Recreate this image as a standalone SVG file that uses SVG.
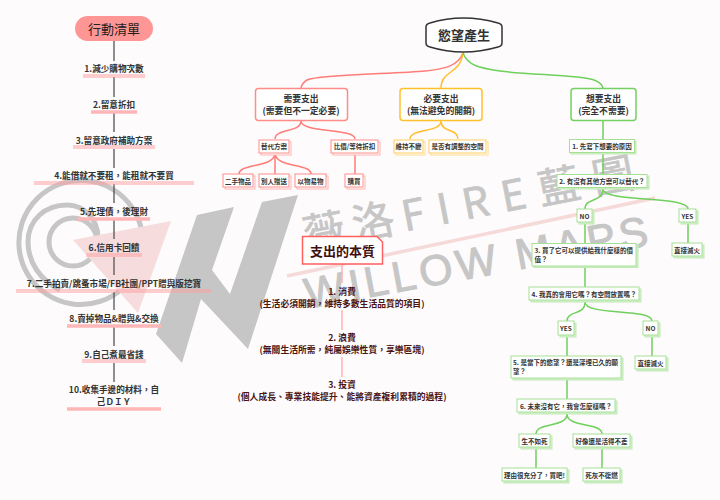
<svg xmlns="http://www.w3.org/2000/svg" width="720" height="500" viewBox="0 0 720 500">
<style>
text{font-family:"Noto Sans CJK TC","Noto Sans",sans-serif;text-anchor:middle;dominant-baseline:central;fill:#333;font-weight:700}
.li{font-size:8.6px}
.m{font-size:8.8px}
.s{font-size:6.5px}
.l{text-anchor:start}
.b{font-size:8.8px;fill:#4a1414}
.wm{fill:#c6c6c6;stroke:#c6c6c6;font-weight:400}
.front{fill:#fff;stroke-width:1}
.back{stroke-width:1}
.r .front{stroke:#ff8c87}.r .back{fill:#fff;stroke:#ffb4b0}
.y .front{stroke:#ffcd5c}.y .back{fill:#fff;stroke:#ffdc8c}
.g .front{stroke:#a5e095}.g .back{fill:#d6f1ce;stroke:#c2e9b6}
.main{fill:#fff;stroke-width:1.5}
.c{fill:none;stroke-width:1.5}
.cr{stroke:#ff7d78}.cy{stroke:#ffbe2a}.cg{stroke:#6fd05c}
.u1{stroke:#ff9e9e;stroke-width:1;fill:none}
.u2{stroke:#ffb6b6;stroke-width:3.5;fill:none}
</style>
<rect width="720" height="500" fill="#fdfbfc"/>
<g id="watermark">
<g fill="none" stroke="#c6c6c6" stroke-width="5">
<path d="M142,232A62,62 0 1 0 123,288"/>
<path d="M60,290C40,280 28,262 28,242C28,220 45,205 67,205C85,205 98,220 98,238"/>
<circle cx="73" cy="242" r="24"/>
</g>
<polygon points="73,240 171,221 138,313" fill="#f6dcdc"/>
<polygon points="197,215 234,207 212,270 230,294 262,202 298,195 248,349 201,299 182,363 156,334" fill="#c6c6c6"/>
<path d="M287,276L655,198" stroke="#f6d9d9" stroke-width="3.500"/>
<text class="wm" transform="translate(303,232) rotate(-11)" style="font-size:42px;stroke-width:.7px;text-anchor:start;letter-spacing:8px">薇洛<tspan style="letter-spacing:13px">FIRE</tspan><tspan style="letter-spacing:13px">藍圖</tspan></text>
<text class="wm" transform="translate(478,262) rotate(-10.5)" style="font-size:43px;letter-spacing:4px;stroke-width:1px;font-family:'Liberation Sans',sans-serif">WILLOW MAPS</text>
</g>
<g id="connectors">
<path d="M114,41V61M114,77V97M114,113V132M114,149V168M114,184V203M114,220V239M114,257V275M114,292V310M114,327V346M114,363V382" stroke="#555" stroke-width="1.300" fill="none"/>
<path class="c cr" d="M463,53C458,66 445,69 425,71C395,74 320,74 307,80Q302,83 301,88"/>
<path class="c cy" d="M463,53C460,75 441,70 441,88"/>
<path class="c cg" d="M463,53C468,66 480,68 500,71C530,75 580,75 594,80Q602,83 603,88"/>
<path class="c cr" d="M301,121C301,133 275,128 275,139M301,121C301,133 355,128 355,139"/>
<path class="c cr" d="M275,153C275,168 239,163 239,174M275,153V174M275,153C275,168 311,163 311,174M355,153V174"/>
<path class="c cy" d="M441,121C441,133 410,128 410,139M441,121C441,133 458,128 458,139"/>
<path class="c cg" d="M603,121V174M603,189C603,203 585,197 585,209M603,189C603,203 688,195 688,209M585,223V243M688,223V243M585,267V287"/>
<path class="c cg" d="M585,302C585,316 567,310 567,321M585,302C585,316 652,308 652,321M567,337V356M652,337V356M567,380V399"/>
<path class="c cg" d="M567,414C567,428 536,422 536,434M567,414C567,428 602,422 602,434M536,449V468M602,449V468"/>
<path d="M342,264V283M342,310V330M342,357V377" stroke="#ffb3b3" stroke-width="1.500" fill="none"/>
</g>
<g id="action-list"><rect x="75" y="16" width="78" height="25" rx="12.500" fill="#ff9696"/><text x="114" y="28.500" style="font-size:13px;font-weight:400;fill:#222">行動清單</text></g>
<g id="a1"><text class="li" x="114" y="68">1.減少購物次數</text><path class="u1" d="M83,75H145M83,77H145"/></g>
<g id="a2"><text class="li" x="114" y="104">2.留意折扣</text><path class="u2" d="M91,112H137"/></g>
<g id="a3"><text class="li" x="114" y="140">3.留意政府補助方案</text><path class="u1" d="M73,146H155M73,148H155"/></g>
<g id="a4"><text class="li" x="114" y="175">4.能借就不要租，能租就不要買</text><path class="u1" d="M34,182H194M34,184H194"/></g>
<g id="a5"><text class="li" x="114" y="211">5.先理債，後理財</text><path class="u2" d="M78,219H150"/></g>
<g id="a6"><text class="li" x="114" y="247">6.信用卡回饋</text><path class="u1" d="M86,254H142M86,256H142"/></g>
<g id="a7"><text class="li" x="114" y="283">7.二手拍賣/跳蚤市場/FB社團/PPT贈與版挖寶</text><path class="u1" d="M16,290H211M16,292H211"/></g>
<g id="a8"><text class="li" x="114" y="318">8.賣掉物品&amp;贈與&amp;交換</text><path class="u2" d="M67,326H161"/></g>
<g id="a9"><text class="li" x="114" y="354">9.自己煮最省錢</text><path class="u1" d="M82,360H146M82,362H146"/></g>
<g id="a10"><text class="li" x="114" y="389">10.收集手邊的材料，自</text><text class="li" x="114" y="401">己ＤＩＹ</text><path class="u2" d="M67,409H161"/></g>
<g id="desire"><path d="M426,27Q426,24 430,23Q463,13 498,23Q502,24 502,27V43Q502,46 498,47Q463,57 430,47Q426,46 426,43Z" fill="#fff" stroke="#333" stroke-width="1.500"/><text x="464" y="34.500" style="font-size:13px">慾望產生</text></g>
<g id="need"><rect class="main" x="255.500" y="88.500" width="92" height="32" rx="3" stroke="#ff8c87"/><text class="m" x="301" y="98.500">需要支出</text><text class="m" x="301" y="110">(需要但不一定必要)</text></g>
<g id="must"><rect class="main" x="400" y="88.500" width="82" height="32" rx="3" stroke="#ffc12b"/><text class="m" x="441" y="98.500">必要支出</text><text class="m" x="441" y="110">(無法避免的開銷)</text></g>
<g id="want"><rect class="main" x="571" y="88.500" width="65" height="32" rx="3" stroke="#74d060"/><text class="m" x="603.500" y="98.500">想要支出</text><text class="m" x="603.500" y="110">(完全不需要)</text></g>
<g id="n1" class="r"><rect class="back" x="261" y="142" width="30" height="13"/><rect class="front" x="259" y="140" width="30" height="13"/><text class="s" x="274" y="146">替代方案</text></g>
<g id="n2" class="r"><rect class="back" x="333" y="142" width="47" height="13"/><rect class="front" x="331" y="140" width="47" height="13"/><text class="s" x="354.500" y="146">比價/等待折扣</text></g>
<g id="n3" class="y"><rect class="back" x="396" y="142" width="29" height="13"/><rect class="front" x="394" y="140" width="29" height="13"/><text class="s" x="408.500" y="146">維持不變</text></g>
<g id="n4" class="y"><rect class="back" x="431" y="142" width="57" height="13"/><rect class="front" x="429" y="140" width="57" height="13"/><text class="s" x="457.500" y="146">是否有調整的空間</text></g>
<g id="n5" class="r"><rect class="back" x="225" y="176" width="30" height="13"/><rect class="front" x="223" y="174" width="30" height="13"/><text class="s" x="238" y="180.500">二手物品</text></g>
<g id="n6" class="r"><rect class="back" x="261" y="176" width="30" height="13"/><rect class="front" x="259" y="174" width="30" height="13"/><text class="s" x="274" y="180.500">別人贈送</text></g>
<g id="n7" class="r"><rect class="back" x="297" y="176" width="31" height="13"/><rect class="front" x="295" y="174" width="31" height="13"/><text class="s" x="310.500" y="180.500">以物易物</text></g>
<g id="n8" class="r"><rect class="back" x="347" y="176" width="18" height="13"/><rect class="front" x="345" y="174" width="18" height="13"/><text class="s" x="354" y="180.500">購買</text></g>
<g id="g1" class="g"><rect class="back" x="571" y="141" width="65" height="13"/><rect class="front" x="569.500" y="139.500" width="65" height="13"/><text class="s" x="602" y="146">1. 先寫下想要的原因</text></g>
<g id="g2" class="g"><rect class="back" x="559" y="176" width="90" height="13"/><rect class="front" x="557" y="174.500" width="90" height="13"/><text class="s" x="602" y="181">2. 有沒有其他方案可以替代？</text></g>
<g id="g3" class="g"><rect class="back" x="579" y="211" width="15" height="13"/><rect class="front" x="577" y="209" width="15" height="13"/><text class="s" x="584.500" y="215.500">NO</text></g>
<g id="g4" class="g"><rect class="back" x="681" y="211" width="17" height="13"/><rect class="front" x="679" y="209" width="17" height="13"/><text class="s" x="687.500" y="215.500">YES</text></g>
<g id="g5" class="g"><rect class="back" x="674" y="245" width="30" height="13"/><rect class="front" x="672" y="243" width="30" height="13"/><text class="s" x="687" y="249.500">直接滅火</text></g>
<g id="g6" class="g"><rect class="back" x="534" y="245" width="104" height="22.500"/><rect class="front" x="532" y="243.500" width="104" height="22.500"/><text class="s l" x="534.500" y="249.500">3. 買了它可以提供給我什麼樣的價</text><text class="s l" x="534.500" y="258.500">值？</text></g>
<g id="g7" class="g"><rect class="back" x="531" y="289" width="110" height="13"/><rect class="front" x="529" y="287" width="110" height="13"/><text class="s" x="584" y="293.500">4. 我真的會用它嗎？有空間放置嗎？</text></g>
<g id="g8" class="g"><rect class="back" x="560" y="323" width="16" height="14"/><rect class="front" x="558" y="321" width="16" height="14"/><text class="s" x="566" y="328">YES</text></g>
<g id="g9" class="g"><rect class="back" x="645" y="323" width="15" height="14"/><rect class="front" x="643" y="321" width="15" height="14"/><text class="s" x="650.500" y="328">NO</text></g>
<g id="g10" class="g"><rect class="back" x="513" y="358" width="110" height="22"/><rect class="front" x="511" y="356" width="110" height="22"/><text class="s l" x="513" y="362">5. 是當下的慾望？還是深埋已久的願</text><text class="s l" x="513" y="371">望？</text></g>
<g id="g11" class="g"><rect class="back" x="637" y="358" width="31" height="13"/><rect class="front" x="635" y="356" width="31" height="13"/><text class="s" x="650.500" y="362.500">直接滅火</text></g>
<g id="g12" class="g"><rect class="back" x="519" y="401" width="98" height="13"/><rect class="front" x="517" y="399" width="98" height="13"/><text class="s" x="566" y="405.500">6. 未來沒有它，我會怎麼樣嗎？</text></g>
<g id="g13" class="g"><rect class="back" x="521" y="436" width="31" height="13"/><rect class="front" x="519" y="434" width="31" height="13"/><text class="s" x="534.500" y="440.500">生不如死</text></g>
<g id="g14" class="g"><rect class="back" x="575" y="436" width="57" height="13"/><rect class="front" x="573" y="434" width="57" height="13"/><text class="s" x="601.500" y="440.500">好像還是活得不差</text></g>
<g id="g15" class="g"><rect class="back" x="504" y="470" width="65" height="13"/><rect class="front" x="502" y="468" width="65" height="13"/><text class="s" x="534.500" y="474.500">理由很充分了，買吧!</text></g>
<g id="g16" class="g"><rect class="back" x="585" y="470" width="37" height="13"/><rect class="front" x="583" y="468" width="37" height="13"/><text class="s" x="601.500" y="474.500">死灰不復燃</text></g>
<g id="essence"><path d="M302.500,236.500H377L382.500,242V264H302.500Z" fill="#fff" stroke="#ff5f5f" stroke-width="1.500"/><text x="342.500" y="250.500" style="font-size:13px;fill:#3f0e0e">支出的本質</text></g>
<g id="e1"><text class="b" x="342" y="291">1. 消費</text><text class="b" x="342" y="303">(生活必須開銷，維持多數生活品質的項目)</text></g>
<g id="e2"><text class="b" x="342" y="337.500">2. 浪費</text><text class="b" x="342" y="349.500">(無關生活所需，純屬娛樂性質，享樂區塊)</text></g>
<g id="e3"><text class="b" x="342" y="384">3. 投資</text><text class="b" x="342" y="396">(個人成長、專業技能提升、能將資產複利累積的過程)</text></g>
</svg>
